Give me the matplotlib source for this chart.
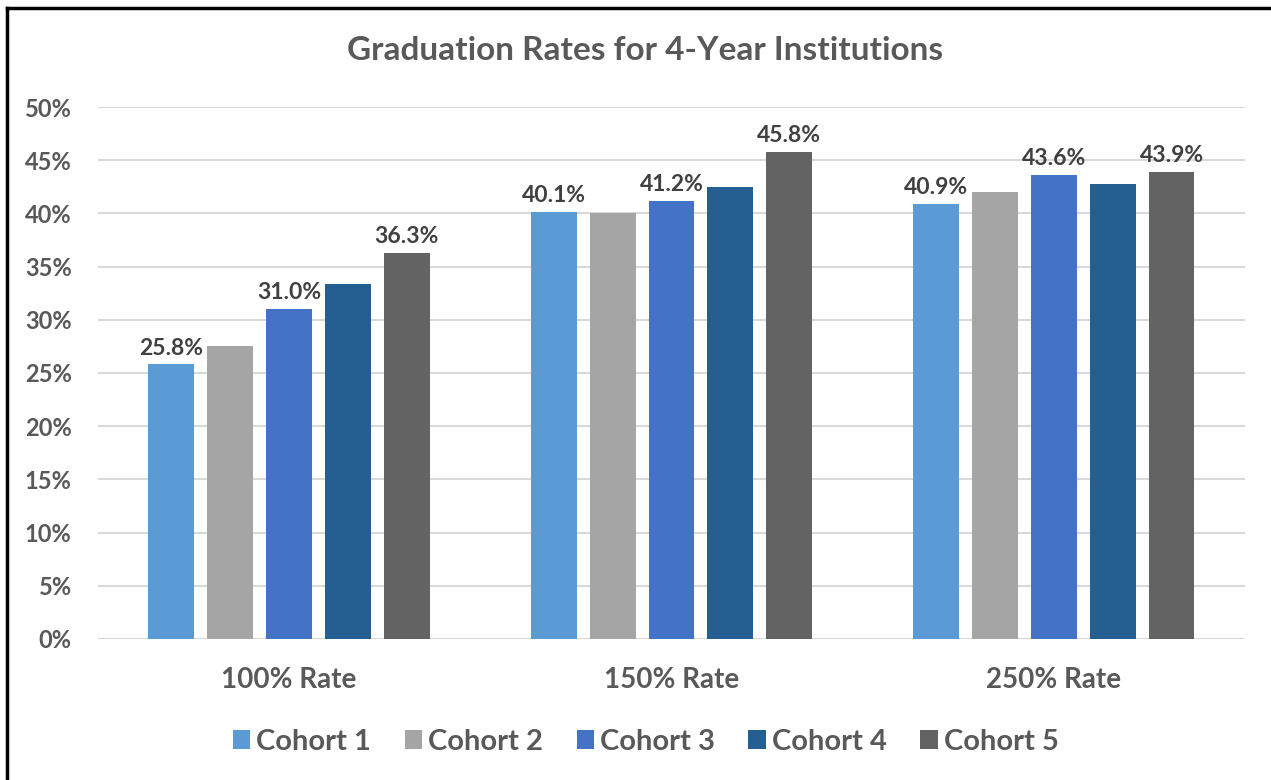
import numpy as np
import matplotlib.pyplot as plt
from matplotlib.lines import Line2D

categories = ['100% Rate', '150% Rate', '250% Rate']
cohorts = ['Cohort 1', 'Cohort 2', 'Cohort 3', 'Cohort 4', 'Cohort 5']
rates = {
    'Cohort 1': [25.8, 40.1, 40.9],
    'Cohort 2': [27.5, 40.0, 42.0],
    'Cohort 3': [31.0, 41.2, 43.6],
    'Cohort 4': [33.4, 42.5, 42.8],
    'Cohort 5': [36.3, 45.8, 43.9],
}
labelled = ['Cohort 1', 'Cohort 3', 'Cohort 5']
colors = ['#5B9BD5', '#A5A5A5', '#4472C4', '#255E91', '#636363']

plt.rcParams['font.family'] = ['Lato', 'DejaVu Sans']
text_color = '#595959'

fig = plt.figure(figsize=(12.71, 7.8), dpi=100)
ax = fig.add_axes([0.0771, 0.1808, 0.9024, 0.682])

x = np.arange(len(categories))
width = 0.12
pitch = 0.154
for i, (name, col) in enumerate(zip(cohorts, colors)):
    pos = x + (i - 2) * pitch
    bars = ax.bar(pos, rates[name], width, color=col, label=name, zorder=3)
    if name in labelled:
        for b, v in zip(bars, rates[name]):
            ax.text(b.get_x() + b.get_width() / 2, v + 0.55, f'{v:.1f}%',
                    ha='center', va='bottom', fontsize=16.5, fontweight='bold',
                    color='#404040')

ax.set_xlim(-0.5, 2.5)
ax.set_ylim(0, 50)
ax.set_yticks(np.arange(0, 51, 5))
ax.set_yticklabels([f'{t}%' for t in range(0, 51, 5)])
ax.set_xticks(x)
ax.set_xticklabels(categories)
ax.grid(axis='y', color='#D9D9D9', linewidth=1.5, zorder=0)
for s in ax.spines.values():
    s.set_visible(False)
ax.tick_params(axis='both', length=0, labelcolor=text_color)
ax.tick_params(axis='y', labelsize=17, pad=19)
ax.tick_params(axis='x', labelsize=20, pad=20)
for lab in ax.get_xticklabels() + ax.get_yticklabels():
    lab.set_fontweight('bold')

fig.text(0.5075, 0.935, 'Graduation Rates for 4-Year Institutions', ha='center',
         va='center', fontsize=24, fontweight='bold', color=text_color)

leg = fig.legend(loc='center', bbox_to_anchor=(0.508, 0.049), ncol=5, frameon=False,
                 fontsize=21, handlelength=0.6, handleheight=0.6, handletextpad=0.2,
                 columnspacing=1.15)
for t in leg.get_texts():
    t.set_color(text_color)
    t.set_fontweight('bold')

# frame lines on top and left like the screenshot
fig.add_artist(Line2D([0.0055, 1.0], [0.9895, 0.9895], color='black', linewidth=2.5,
                      transform=fig.transFigure))
fig.add_artist(Line2D([0.0055, 0.0055], [0.0, 0.9895], color='black', linewidth=2.5,
                      transform=fig.transFigure))

fig.savefig('out.png', dpi=100)
